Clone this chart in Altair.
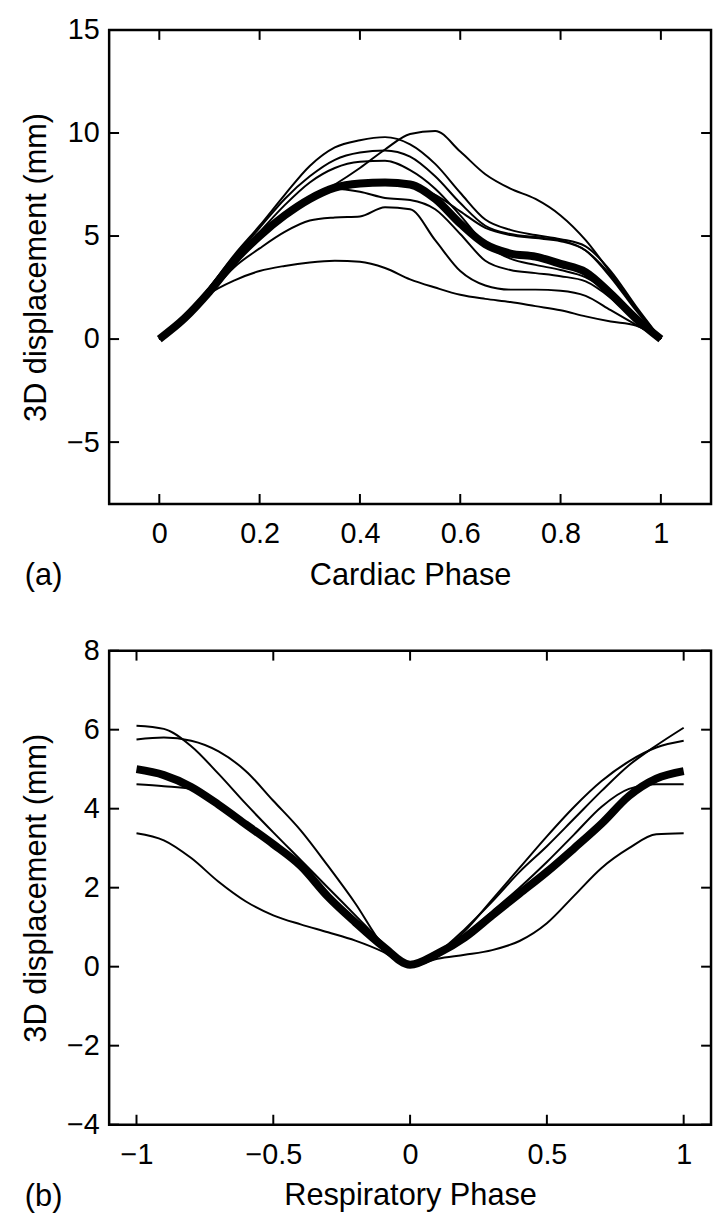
import altair as alt
import pandas as pd

# ---------------- data: panel (a) cardiac phase ----------------
X_CARDIAC = [0.0, 0.05, 0.1, 0.15, 0.2, 0.25, 0.3, 0.35, 0.4, 0.45, 0.5,
             0.55, 0.6, 0.65, 0.7, 0.75, 0.8, 0.85, 0.9, 0.95, 1.0]
CARD_A = [0, 0.9, 2.3, 3.8, 5.0, 6.0, 6.8, 7.5, 8.3, 9.2, 9.95, 10.1, 9.1, 8.0, 7.3, 6.8, 6.0, 4.8, 3.2, 1.5, 0]
CARD_B = [0, 1.0, 2.5, 4.1, 5.5, 7.0, 8.4, 9.3, 9.65, 9.8, 9.45, 8.5, 7.1, 5.8, 5.3, 5.05, 4.85, 4.5, 3.3, 1.6, 0]
CARD_C = [0, 1.0, 2.5, 4.0, 5.4, 6.8, 7.9, 8.7, 9.05, 9.15, 8.85, 7.9, 6.6, 5.5, 5.1, 4.95, 4.8, 4.3, 3.0, 1.4, 0]
CARD_D = [0, 0.95, 2.4, 3.9, 5.2, 6.5, 7.6, 8.3, 8.6, 8.65, 8.2, 7.3, 6.0, 4.6, 3.9, 3.6, 3.35, 3.0, 2.2, 1.1, 0]
CARD_E = [0, 0.9, 2.3, 3.7, 5.0, 6.0, 6.8, 7.3, 7.15, 6.85, 6.75, 6.3, 5.1, 3.8, 3.35, 3.2, 3.05, 2.8, 2.0, 0.9, 0]
CARD_F = [0, 0.9, 2.2, 3.5, 4.4, 5.2, 5.75, 5.9, 5.95, 6.4, 6.3, 4.8, 3.3, 2.6, 2.4, 2.4, 2.35, 2.1, 1.4, 0.7, 0]
CARD_G = [0, 1.1, 2.2, 2.85, 3.3, 3.55, 3.72, 3.8, 3.75, 3.45, 2.9, 2.5, 2.15, 1.95, 1.8, 1.6, 1.4, 1.1, 0.85, 0.65, 0]
CARD_H = [0, 0.9, 2.2, 3.7, 5.0, 6.0, 6.8, 7.35, 7.55, 7.6, 7.45, 7.0, 6.2, 5.4, 5.05, 4.9, 4.75, 4.3, 3.1, 1.5, 0]
CARD_MEAN = [0, 1.0, 2.3, 3.8, 5.0, 6.0, 6.8, 7.35, 7.55, 7.6, 7.5, 6.8, 5.6, 4.6, 4.15, 4.0, 3.65, 3.25, 2.2, 1.0, 0]

# ---------------- data: panel (b) respiratory phase ----------------
X_RESP = [-1.0, -0.9, -0.8, -0.7, -0.6, -0.5, -0.4, -0.3, -0.2, -0.1, 0.0,
          0.1, 0.2, 0.3, 0.4, 0.5, 0.6, 0.7, 0.8, 0.9, 1.0]
RESP_1 = [6.1, 6.02, 5.58, 4.88, 4.12, 3.4, 2.7, 2.0, 1.3, 0.6, 0.0,
          0.35, 0.95, 1.65, 2.4, 3.05, 3.75, 4.45, 5.1, 5.6, 6.05]
RESP_2 = [5.75, 5.8, 5.72, 5.45, 4.95, 4.2, 3.45, 2.55, 1.6, 0.55, 0.0,
          0.3, 0.9, 1.7, 2.5, 3.3, 4.05, 4.7, 5.2, 5.55, 5.72]
RESP_3 = [4.62, 4.57, 4.5, 4.05, 3.55, 3.05, 2.5, 1.75, 1.1, 0.5, 0.0,
          0.35, 0.8, 1.4, 2.0, 2.65, 3.35, 4.05, 4.5, 4.62, 4.62]
RESP_4 = [3.38, 3.2, 2.75, 2.15, 1.65, 1.3, 1.07, 0.87, 0.66, 0.38, 0.0,
          0.2, 0.3, 0.42, 0.65, 1.1, 1.8, 2.5, 3.0, 3.35, 3.38]
RESP_MEAN = [5.0, 4.85, 4.55, 4.1, 3.6, 3.1, 2.55, 1.77, 1.12, 0.52, 0.05,
             0.33, 0.74, 1.3, 1.85, 2.4, 3.0, 3.62, 4.32, 4.76, 4.95]

CARD_TICKS_X = [0, 0.2, 0.4, 0.6, 0.8, 1]
CARD_TICKS_Y = [-5, 0, 5, 10, 15]
RESP_TICKS_X = [-1, -0.5, 0, 0.5, 1]
RESP_TICKS_Y = [-4, -2, 0, 2, 4, 6, 8]

FONT = "Liberation Sans"
W, H = 607, 478
TICK = 10


def long_frame(xs, series):
    rows = []
    for name, ys in series.items():
        for i, (x, y) in enumerate(zip(xs, ys)):
            rows.append({"x": x, "y": y, "series": name, "order": i})
    return pd.DataFrame(rows)


def panel(xs, thin, mean, xdom, ydom, xticks, yticks, xtitle, tag):
    thin_df = long_frame(xs, thin)
    mean_df = long_frame(xs, {"mean": mean})
    xscale = alt.Scale(domain=xdom, nice=False, zero=False)
    yscale = alt.Scale(domain=ydom, nice=False, zero=False)
    xenc = alt.X(
        "x:Q", scale=xscale,
        axis=alt.Axis(
            values=xticks, format="~g", title=xtitle, ticks=False, domain=False,
            grid=False, labelFontSize=29, titleFontSize=31, labelPadding=16,
            titlePadding=12, labelColor="black", titleColor="black",
            titleFontWeight="normal", labelFlush=False, labelOverlap=False,
            labelFont=FONT, titleFont=FONT,
        ),
    )
    yenc = alt.Y(
        "y:Q", scale=yscale,
        axis=alt.Axis(
            values=yticks, format="~g", title="3D displacement (mm)", ticks=False,
            domain=False, grid=False, labelFontSize=29, titleFontSize=31,
            labelPadding=10, titlePadding=14, labelColor="black",
            titleColor="black", titleFontWeight="normal", labelOverlap=False,
            labelFont=FONT, titleFont=FONT,
        ),
    )
    thin_layer = alt.Chart(thin_df).mark_line(
        color="black", strokeWidth=2, interpolate="monotone"
    ).encode(x=xenc, y=yenc, detail="series:N", order="order:Q")
    mean_layer = alt.Chart(mean_df).mark_line(
        color="black", strokeWidth=8, interpolate="monotone"
    ).encode(x="x:Q", y="y:Q", order="order:Q")

    xt = pd.DataFrame({"x": xticks})
    yt = pd.DataFrame({"y": yticks})
    rule = dict(color="black", strokeWidth=2)
    xt_bottom = alt.Chart(xt).mark_rule(**rule).encode(
        x="x:Q", y=alt.value(H - TICK), y2=alt.value(H - 0.5))
    xt_top = alt.Chart(xt).mark_rule(**rule).encode(
        x="x:Q", y=alt.value(TICK), y2=alt.value(0.5))
    yt_left = alt.Chart(yt).mark_rule(**rule).encode(
        y="y:Q", x=alt.value(TICK), x2=alt.value(0.5))
    yt_right = alt.Chart(yt).mark_rule(**rule).encode(
        y="y:Q", x=alt.value(W - TICK), x2=alt.value(W - 0.5))

    tag_layer = alt.Chart(pd.DataFrame({"t": [tag]})).mark_text(
        align="left", baseline="alphabetic", fontSize=31, font=FONT, color="black"
    ).encode(x=alt.value(-85), y=alt.value(H + 82), text="t:N")
    return alt.layer(
        thin_layer, mean_layer, xt_bottom, xt_top, yt_left, yt_right, tag_layer
    ).properties(width=W, height=H)


pa = panel(
    X_CARDIAC,
    {"A": CARD_A, "B": CARD_B, "C": CARD_C, "D": CARD_D, "E": CARD_E,
     "F": CARD_F, "G": CARD_G, "H": CARD_H},
    CARD_MEAN, [-0.1, 1.1], [-8, 15], CARD_TICKS_X, CARD_TICKS_Y,
    "Cardiac Phase", "(a)",
)
pb = panel(
    X_RESP,
    {"R1": RESP_1, "R2": RESP_2, "R3": RESP_3, "R4": RESP_4},
    RESP_MEAN, [-1.1, 1.1], [-4, 8], RESP_TICKS_X, RESP_TICKS_Y,
    "Respiratory Phase", "(b)",
)

chart = (
    alt.vconcat(pa, pb, spacing=42)
    .properties(
        padding={"left": 11, "top": 1, "right": 2, "bottom": 2},
        background="white",
    )
    .configure(font=FONT)
    .configure_view(stroke="black", strokeWidth=2.5)
)

chart.save("out.html", embed_options={"renderer": "svg", "actions": False})
